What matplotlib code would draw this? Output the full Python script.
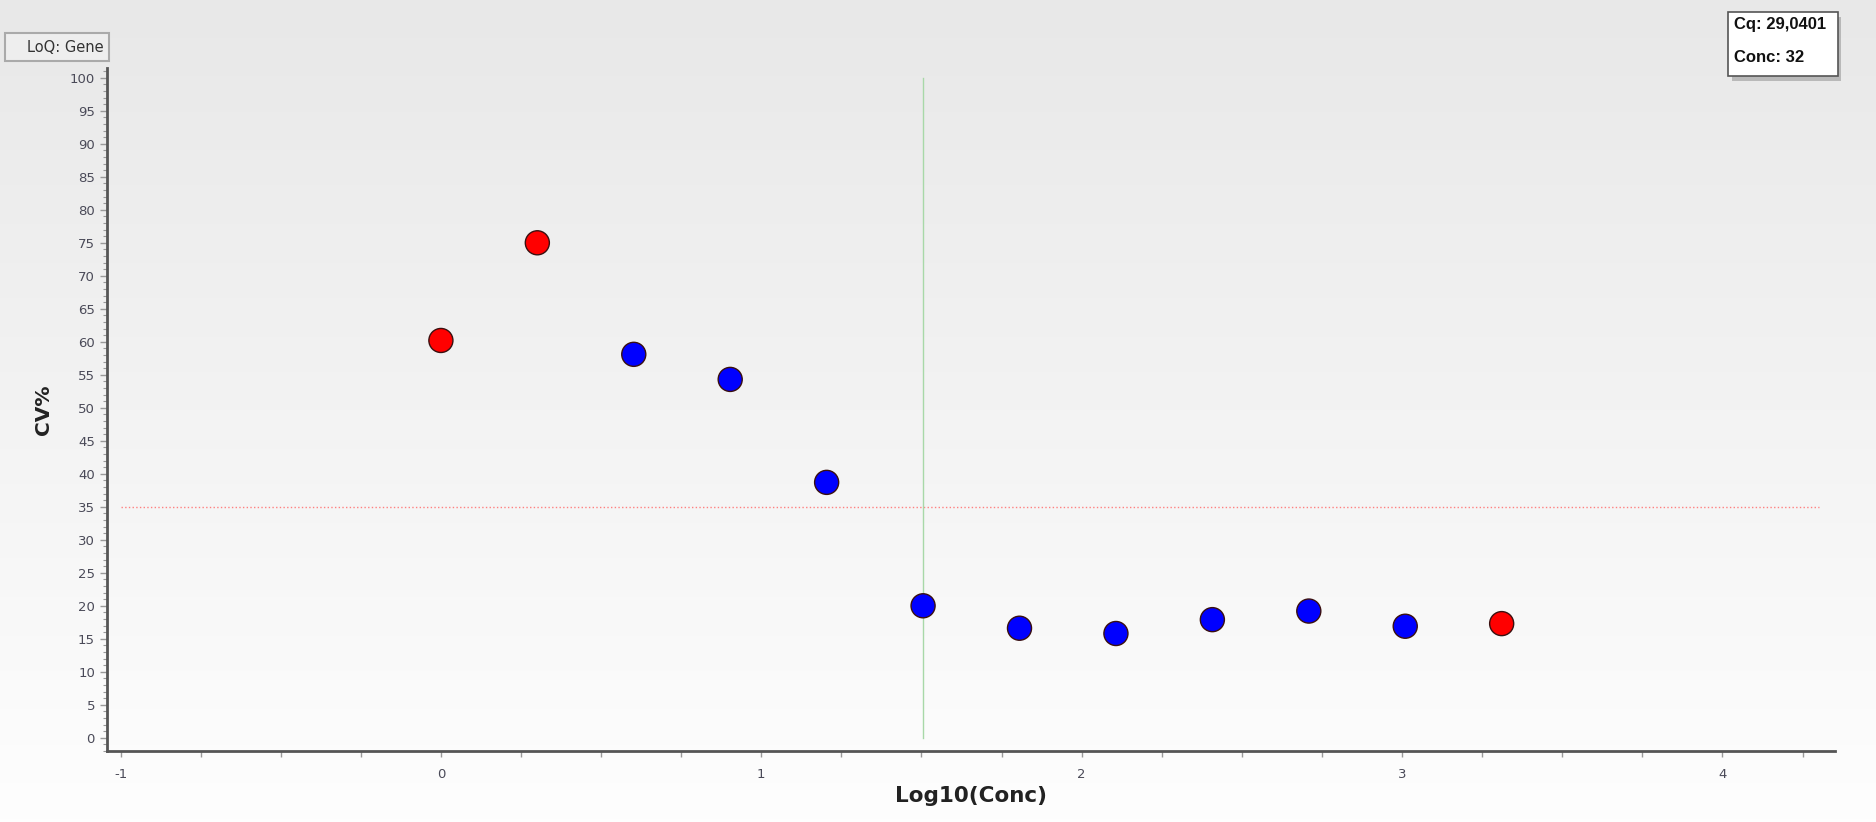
import numpy as np
import matplotlib
matplotlib.use("Agg")
import matplotlib.pyplot as plt
from matplotlib.colors import LinearSegmentedColormap
from matplotlib.patches import Rectangle
from matplotlib.ticker import MultipleLocator

# data
log_conc = [0.0, 0.301, 0.602, 0.903, 1.204, 1.505, 1.806, 2.107, 2.408, 2.709, 3.010, 3.311]
cv_pct = [60.2, 75.0, 58.1, 54.3, 38.7, 20.0, 16.6, 15.8, 17.9, 19.2, 16.9, 17.3]
colors = ["#ff0000", "#ff0000", "#0000ff", "#0000ff", "#0000ff", "#0000ff",
          "#0000ff", "#0000ff", "#0000ff", "#0000ff", "#0000ff", "#ff0000"]
cv_limit = 35
loq_x = 1.505
x_ticks = [-1, 0, 1, 2, 3, 4]
x_labels = ["-1", "0", "1", "2", "3", "4"]
y_ticks = list(range(0, 101, 5))

fig = plt.figure(figsize=(18.76, 8.22), dpi=100)

# gradient background over the whole figure
bg = fig.add_axes([0, 0, 1, 1], zorder=-10)
grad = np.linspace(0, 1, 256).reshape(-1, 1)
bg.imshow(grad, aspect="auto", cmap=LinearSegmentedColormap.from_list("g", ["#e8e8e8", "#fefefe"]),
          extent=[0, 1, 0, 1], origin="upper")
bg.axis("off")

ax = fig.add_axes([0.0569, 0.0864, 0.921, 0.831])
ax.set_facecolor("none")

ax.scatter(log_conc, cv_pct, s=300, c=colors, edgecolors="#3a1010", linewidths=1.0, zorder=5)
ax.plot([-1, 4.3], [cv_limit, cv_limit], ls=":", color="#ff8080", lw=1.0, zorder=2)
ax.plot([loq_x, loq_x], [0, 100], ls="-", color="#a8d8a8", lw=1.0, zorder=2)

ax.set_xlim(-1.043, 4.35)
ax.set_ylim(-2, 101.5)
ax.set_xticks(x_ticks)
ax.set_xticklabels(x_labels)
ax.set_yticks(y_ticks)
ax.xaxis.set_minor_locator(MultipleLocator(0.25))
ax.yaxis.set_minor_locator(MultipleLocator(1))

for s in ["top", "right"]:
    ax.spines[s].set_visible(False)
for s in ["left", "bottom"]:
    ax.spines[s].set_color("#555555")
    ax.spines[s].set_linewidth(2)

ax.tick_params(axis="both", which="both", colors="#999999", labelcolor="#4a4a58", labelsize=9.5)
ax.tick_params(axis="y", which="major", length=5, width=1)
ax.tick_params(axis="y", which="minor", length=3, width=0.8)
ax.tick_params(axis="x", which="both", length=4, width=1, pad=8)

ax.set_xlabel("Log10(Conc)", fontsize=15.5, fontweight="bold", color="#222222", labelpad=4)
ax.set_ylabel("CV%", fontsize=14.5, fontweight="bold", color="#222222", labelpad=12)

# LoQ label box top-left
fig.patches.append(Rectangle((5 / 1876, 1 - 61 / 822), 104 / 1876, 28 / 822,
                             transform=fig.transFigure, fc="#eeeeee", ec="#aaaaaa", lw=1.5))
fig.text(104 / 1876, 1 - 47 / 822, "LoQ: Gene", ha="right", va="center",
         fontsize=10.5, color="#333333")

# info box top-right with shadow
x0, y0, w, h = 0.921, 0.9075, 0.0586, 0.0779
fig.patches.append(Rectangle((x0 + 0.002, y0 - 0.006), w, h, transform=fig.transFigure,
                             fc="#999999", ec="none", alpha=0.6, zorder=8))
fig.patches.append(Rectangle((x0, y0), w, h, transform=fig.transFigure,
                             fc="white", ec="#555555", lw=1.2, zorder=9))
fig.text(x0 + 0.0035, 1 - 24 / 822, "Cq: 29,0401", ha="left", va="center", fontsize=12,
         fontweight="bold", family="Liberation Sans", color="#111111", zorder=10)
fig.text(x0 + 0.0035, 1 - 57 / 822, "Conc: 32", ha="left", va="center", fontsize=12,
         fontweight="bold", family="Liberation Sans", color="#111111", zorder=10)

fig.savefig("out.png", dpi=100)
